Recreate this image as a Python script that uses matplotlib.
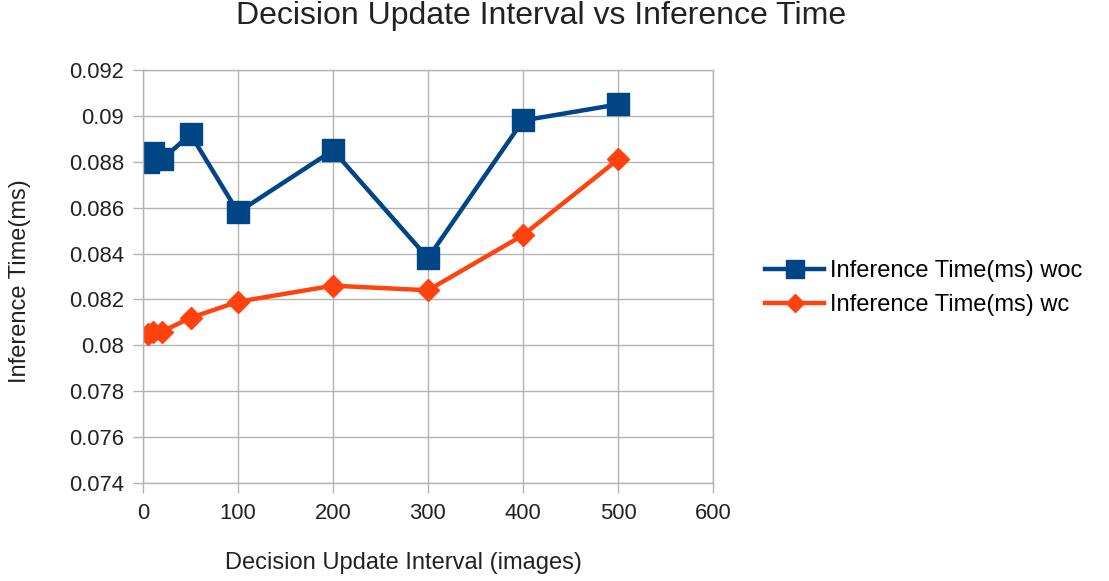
import numpy as np
import matplotlib.pyplot as plt

plt.rcParams['font.family'] = ['Liberation Sans', 'DejaVu Sans']

interval = [5, 10, 20, 50, 100, 200, 300, 400, 500]
time_woc = [0.0880, 0.0884, 0.0881, 0.0892, 0.0858, 0.0885, 0.0838, 0.0898, 0.0905]
time_wc = [0.0805, 0.0806, 0.0806, 0.0812, 0.0819, 0.0826, 0.0824, 0.0848, 0.0881]

W, H = 1109, 581
fig = plt.figure(figsize=(W / 100, H / 100), dpi=100)
ax = fig.add_axes([143/W, 1 - 483/H, 570/W, 413/H])

ax.plot(interval, time_woc, color='#004586', lw=3.2, marker='s', ms=16,
        label='Inference Time(ms) woc')
ax.plot(interval, time_wc, color='#ff420e', lw=3.2, marker='D', ms=11,
        label='Inference Time(ms) wc')

ax.set_xlim(0, 600)
ax.set_ylim(0.074, 0.092)
ax.set_xticks(np.arange(0, 601, 100))
ax.set_yticks(np.arange(0.074, 0.0921, 0.002))
ax.set_yticklabels(['0.074', '0.076', '0.078', '0.08', '0.082', '0.084',
                    '0.086', '0.088', '0.09', '0.092'])
ax.tick_params(labelsize=15.8, length=7.5, width=1, color='#b3b3b3',
               labelcolor='#222222')
ax.tick_params(axis='x', pad=7)
ax.tick_params(axis='y', pad=6)
ax.grid(True, color='#b3b3b3', lw=1)
ax.set_axisbelow(True)
for s in ax.spines.values():
    s.set_color('#b3b3b3')
    s.set_linewidth(1)

fig.text(403/W, 1 - 563/H, 'Decision Update Interval (images)',
         ha='center', va='center', fontsize=17, color='#222222')
fig.text(20/W, 1 - 281/H, 'Inference Time(ms)', rotation=90,
         ha='center', va='center', fontsize=17, color='#222222')
fig.text(541/W, 1 - 16/H, 'Decision Update Interval vs Inference Time',
         ha='center', va='center', fontsize=23, color='#222222')

ax.legend(loc='center left', bbox_to_anchor=(765/W, 1 - 288/H),
          bbox_transform=fig.transFigure, frameon=False, fontsize=17,
          handlelength=2.5, handletextpad=0.25, borderpad=0, borderaxespad=0,
          markerscale=0.85, labelspacing=0.5)

fig.savefig('out.png', dpi=100)
